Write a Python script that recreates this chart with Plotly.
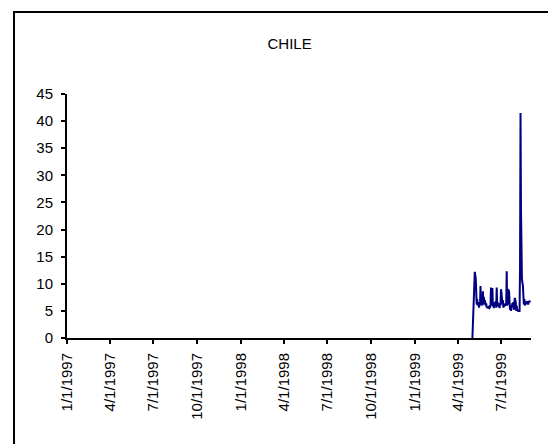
import plotly.graph_objects as go

# ---- data ----
dates = [
    "1999-05-02", "1999-05-07", "1999-05-09", "1999-05-10", "1999-05-11", "1999-05-12",
    "1999-05-13", "1999-05-14", "1999-05-16", "1999-05-17", "1999-05-18", "1999-05-19",
    "1999-05-20", "1999-05-21", "1999-05-23", "1999-05-24", "1999-05-25", "1999-05-26",
    "1999-05-27", "1999-05-28", "1999-05-30", "1999-05-31", "1999-06-01", "1999-06-02",
    "1999-06-03", "1999-06-04", "1999-06-06", "1999-06-07", "1999-06-08", "1999-06-09",
    "1999-06-10", "1999-06-11", "1999-06-13", "1999-06-14", "1999-06-15", "1999-06-16",
    "1999-06-17", "1999-06-18", "1999-06-20", "1999-06-21", "1999-06-22", "1999-06-23",
    "1999-06-24", "1999-06-25", "1999-06-27", "1999-06-28", "1999-06-29", "1999-06-30",
    "1999-07-01", "1999-07-02", "1999-07-04", "1999-07-05", "1999-07-06", "1999-07-07",
    "1999-07-08", "1999-07-09", "1999-07-11", "1999-07-12", "1999-07-13", "1999-07-14",
    "1999-07-15", "1999-07-16", "1999-07-18", "1999-07-19", "1999-07-20", "1999-07-21",
    "1999-07-22", "1999-07-23", "1999-07-25", "1999-07-26", "1999-07-27", "1999-07-28",
    "1999-07-29", "1999-07-30", "1999-08-01", "1999-08-02", "1999-08-03", "1999-08-04",
    "1999-08-05", "1999-08-06", "1999-08-08", "1999-08-09", "1999-08-10", "1999-08-11",
    "1999-08-12", "1999-08-13", "1999-08-14", "1999-08-16", "1999-08-17", "1999-08-18",
    "1999-08-19", "1999-08-20", "1999-08-22", "1999-08-23", "1999-08-24", "1999-08-25",
    "1999-08-26", "1999-08-27", "1999-08-29", "1999-08-30", "1999-08-31", "1999-09-01",
]
values = [
    0.0, 12.2, 11.0, 7.0, 6.2, 7.2,
    6.0, 6.6, 5.6, 6.4, 6.0, 9.6,
    6.2, 6.8, 6.0, 8.6, 6.4, 7.6,
    6.2, 7.0, 6.0, 6.4, 5.6, 5.8,
    5.5, 5.6, 5.5, 6.0, 5.5, 6.2,
    9.3, 6.0, 9.2, 5.8, 6.6, 5.5,
    6.4, 6.0, 6.8, 5.6, 9.3, 6.2,
    6.6, 5.8, 6.4, 5.5, 6.2, 6.0,
    9.0, 8.4, 6.2, 7.0, 5.6, 6.4,
    5.8, 6.2, 6.0, 6.4, 12.3, 6.0,
    6.4, 9.0, 8.6, 6.6, 5.2, 6.0,
    5.0, 5.6, 6.4, 5.8, 6.6, 5.2,
    6.8, 7.4, 6.6, 5.0, 6.0, 5.0,
    5.2, 5.0, 5.0, 5.0, 13.2, 41.5,
    23.5, 17.5, 10.8, 9.6, 8.0, 6.2,
    7.2, 6.0, 6.6, 6.2, 6.8, 6.4,
    6.6, 6.2, 6.8, 6.6, 6.8, 6.8,
]

tick_dates = [
    "1997-01-01", "1997-04-01", "1997-07-01", "1997-10-01",
    "1998-01-01", "1998-04-01", "1998-07-01", "1998-10-01",
    "1999-01-01", "1999-04-01", "1999-07-01",
]
tick_labels = [
    "1/1/1997", "4/1/1997", "7/1/1997", "10/1/1997",
    "1/1/1998", "4/1/1998", "7/1/1998", "10/1/1998",
    "1/1/1999", "4/1/1999", "7/1/1999",
]
title_text = "CHILE"

FONT = "Liberation Sans, Arial, sans-serif"

fig = go.Figure()
fig.add_trace(go.Scatter(
    x=dates, y=values, mode="lines",
    line=dict(color="#000080", width=2),
    showlegend=False,
))

fig.update_layout(
    width=556, height=444,
    margin=dict(l=59, r=33, t=86, b=114),
    paper_bgcolor="white", plot_bgcolor="white",
    font=dict(family=FONT, size=15, color="black"),
    title=dict(text=title_text, x=0.5065, xanchor="center", y=0.919, yanchor="middle",
               font=dict(family=FONT, size=15, color="black")),
    xaxis=dict(
        type="date", range=["1997-01-01", "1999-09-02"],
        tickmode="array", tickvals=tick_dates, ticktext=tick_labels,
        tickangle=-90, ticks="outside", ticklen=4, tickwidth=1.5, tickcolor="black",
        ticklabelstandoff=3,
        showline=True, linecolor="black", linewidth=2,
        showgrid=False, zeroline=False,
        tickfont=dict(family=FONT, size=15, color="black"),
    ),
    yaxis=dict(
        range=[0, 45], dtick=5, tick0=0,
        ticks="outside", ticklen=4, tickwidth=1.5, tickcolor="black",
        ticklabelstandoff=5,
        showline=True, linecolor="black", linewidth=2,
        showgrid=False, zeroline=False,
        tickfont=dict(family=FONT, size=15, color="black"),
    ),
    shapes=[dict(
        type="rect", xref="paper", yref="paper",
        x0=-0.1142, x1=1.2, y0=-0.6, y1=1.336,
        line=dict(color="black", width=2), fillcolor="rgba(0,0,0,0)", layer="above",
    )],
)

fig.write_html("out.html")
